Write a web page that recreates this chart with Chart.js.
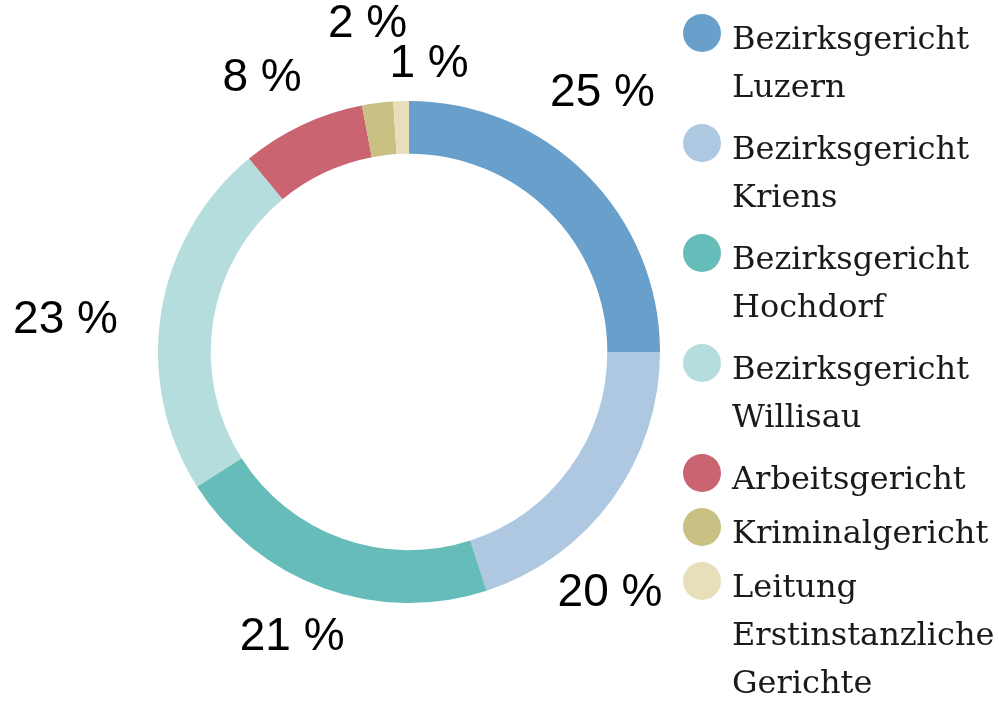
<!DOCTYPE html>
<html>
<head>
<meta charset="utf-8">
<script src="https://cdn.jsdelivr.net/npm/chart.js@4/dist/chart.umd.min.js"></script>
<style>
    html, body { margin: 0; padding: 0; background: #fff; }
    #wrap { position: relative; width: 999px; height: 706px; }
    #myChart { position: absolute; left: 0; top: 0; }
    #legend { position: absolute; left: 683px; top: 14px; font-family: "DejaVu Serif", serif; font-size: 32px; line-height: 48px; color: #1a1a1a; }
    .item { position: relative; padding-left: 49px; white-space: nowrap; }
    .dot { position: absolute; left: 0; top: 0; width: 38px; height: 38px; border-radius: 50%; }
</style>
</head>
<body>
<div id="wrap">
    <canvas id="myChart" width="999" height="706"></canvas>
    <div id="legend"></div>
</div>
<script>
    // Anteile der Gerichte in Prozent
    let gerichte = [
        ['Bezirksgericht', 'Luzern'],
        ['Bezirksgericht', 'Kriens'],
        ['Bezirksgericht', 'Hochdorf'],
        ['Bezirksgericht', 'Willisau'],
        ['Arbeitsgericht'],
        ['Kriminalgericht'],
        ['Leitung', 'Erstinstanzliche', 'Gerichte']
    ];
    let anteile = [25, 20, 21, 23, 8, 2, 1];
    let farben = ['#68a0cb', '#adc8e0', '#66bcb8', '#b5dddd', '#c96470', '#c9c083', '#e6dfb9'];

    (() => {
        // legend as html, one entry per court
        let legend = document.getElementById('legend');
        gerichte.forEach((lines, i) => {
            let div = document.createElement('div');
            div.className = 'item';
            div.style.marginBottom = (lines.length > 1 ? 14 : 6) + 'px';
            let dot = document.createElement('span');
            dot.className = 'dot';
            dot.style.background = farben[i];
            div.appendChild(dot);
            div.appendChild(document.createTextNode(lines[0]));
            lines.slice(1).forEach(l => {
                div.appendChild(document.createElement('br'));
                div.appendChild(document.createTextNode(l));
            });
            legend.appendChild(div);
        });

        // percent labels outside the ring (angle nudge in degrees, extra distance beyond outer radius)
        let prozentLabels = {
            id: 'prozentLabels',
            afterDatasetsDraw(chart, args, opts) {
                let c = chart.ctx;
                let meta = chart.getDatasetMeta(0);
                c.save();
                c.font = '46px "Liberation Sans", Arial, sans-serif';
                c.fillStyle = '#000';
                c.textAlign = 'center';
                c.textBaseline = 'middle';
                meta.data.forEach((arc, i) => {
                    let mid = (arc.startAngle + arc.endAngle) / 2 + opts.nudge[i] * Math.PI / 180;
                    let d = arc.outerRadius + opts.extra[i];
                    c.fillText(chart.data.datasets[0].data[i] + ' %', arc.x + d * Math.cos(mid), arc.y + d * Math.sin(mid));
                });
                c.restore();
            }
        };

        let ctx = document.getElementById('myChart');
        let myChart = new Chart(ctx, {
            type: 'doughnut',
            data: {
                labels: gerichte.map(l => l.join(' ')),
                datasets: [{
                    data: anteile,
                    backgroundColor: farben,
                    borderWidth: 0
                }]
            },
            options: {
                responsive: false,
                animation: false,
                cutout: '79%',
                layout: { padding: { left: 158, right: 339, top: 101, bottom: 103 } },
                plugins: {
                    legend: { display: false },
                    tooltip: { enabled: false },
                    prozentLabels: {
                        nudge: [-8.2, 14.2, 2.5, -3.7, -3, 0, 5.8],
                        extra: [72, 63, 57, 94, 60, 79, 37]
                    }
                }
            },
            plugins: [prozentLabels]
        });
    })();
</script>
</body>
</html>
